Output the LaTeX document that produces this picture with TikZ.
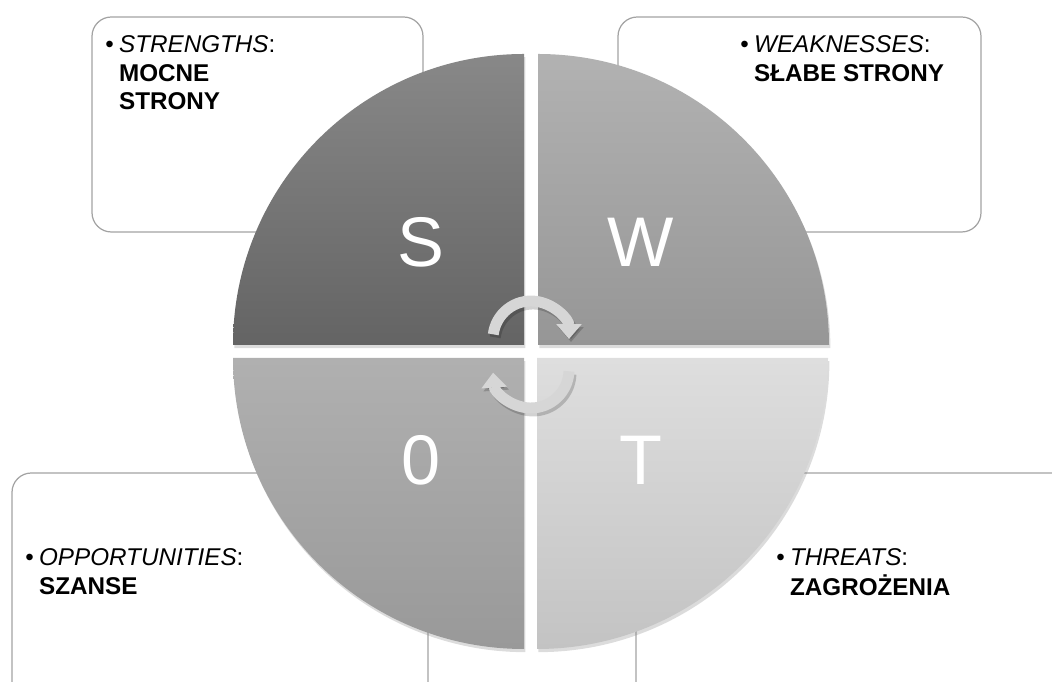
\documentclass[tikz,border=0pt]{standalone}
\usepackage{fontspec}
\setmainfont{Liberation Sans}
\usetikzlibrary{arrows.meta,shadows}
\definecolor{boxgrey}{HTML}{A3A3A3}
\definecolor{sTop}{HTML}{888888}
\definecolor{sBot}{HTML}{646464}
\definecolor{wTop}{HTML}{B2B2B2}
\definecolor{wBot}{HTML}{969696}
\definecolor{oTop}{HTML}{B0B0B0}
\definecolor{oBot}{HTML}{999999}
\definecolor{tTop}{HTML}{DEDEDE}
\definecolor{tBot}{HTML}{C3C3C3}
\definecolor{cycgrey}{HTML}{D6D6D6}

\begin{document}
\begin{tikzpicture}[x=0.02cm,y=0.02cm,
    infobox/.style={draw=boxgrey,line width=0.7pt,fill=white,rounded corners=11pt},
    quad/.style={drop shadow={shadow xshift=0.8pt,shadow yshift=-1.8pt,opacity=0.28}},
    letter/.style={text=white,inner sep=0pt,font=\fontsize{40}{40}\selectfont},
    infotext/.style={anchor=base west,inner sep=0pt,font=\fontsize{13.8}{16.2}\selectfont},
    cyc/.style={draw=cycgrey,line width=6.2pt,-{Triangle[width=14pt,length=8.5pt]}},
    cycshade/.style={draw=black,opacity=0.18,line width=6.2pt,-{Triangle[width=14pt,length=8.5pt]}}]
  \clip (0,0) rectangle (1052,682);
  \useasboundingbox (0,0) rectangle (1052,682);
  % text boxes behind the circle
  \draw[infobox] (92,450) rectangle (423,665);
  \draw[infobox] (618,450) rectangle (981,665);
  \draw[infobox] (12,-20) rectangle (428,209);
  \draw[infobox] (636,-20) rectangle (1080,209);
  % four quadrants
  \path[quad,top color=sTop,bottom color=sBot] (524,337) -- (233,337) arc[start angle=180,end angle=90,radius=291] -- cycle;
  \path[quad,top color=wTop,bottom color=wBot] (538,337) -- (538,628) arc[start angle=90,end angle=0,radius=291] -- cycle;
  \path[quad,top color=oTop,bottom color=oBot] (524,324) -- (524,33) arc[start angle=270,end angle=180,radius=291] -- cycle;
  \path[quad,top color=tTop,bottom color=tBot] (537,324) -- (828,324) arc[start angle=0,end angle=-90,radius=291] -- cycle;
  \node[letter] (S) at (421,440) {S};
  \node[letter] (W) at (641,440) {W};
  \node[letter] (O) at (421,222) {0};
  \node[letter] (T) at (641,222) {T};
  % cycle arrows in the middle
  \draw[cycshade] ([shift={(2,-3)}]531,343) ++(173:38) arc[start angle=173,end angle=0,radius=38];
  \draw[cycshade] ([shift={(2,-3)}]531,312) ++(-2:38) arc[start angle=-2,end angle=-176,radius=38];
  \draw[cyc] (531,343) ++(173:38) arc[start angle=173,end angle=0,radius=38];
  \draw[cyc] (531,312) ++(-2:38) arc[start angle=-2,end angle=-176,radius=38];
  % texts
  \node[infotext] (str) at (105,629) {\begin{tabular}[t]{@{}l@{\hspace{3pt}}l@{}}•&\textit{STRENGTHS}:\\&\textbf{MOCNE}\\&\textbf{STRONY}\end{tabular}};
  \node[infotext] (wea) at (740,629) {\begin{tabular}[t]{@{}l@{\hspace{3pt}}l@{}}•&\textit{WEAKNESSES}:\\&\textbf{SŁABE STRONY}\end{tabular}};
  \node[infotext] (opp) at (25,116) {\begin{tabular}[t]{@{}l@{\hspace{3pt}}l@{}}•&\textit{OPPORTUNITIES}:\\&\textbf{SZANSE}\end{tabular}};
  \node[infotext] (thr) at (776,116) {\begin{tabular}[t]{@{}l@{\hspace{3pt}}l@{}}•&\textit{THREATS}:\\&\textbf{ZAGROŻENIA}\end{tabular}};
\end{tikzpicture}
\end{document}
